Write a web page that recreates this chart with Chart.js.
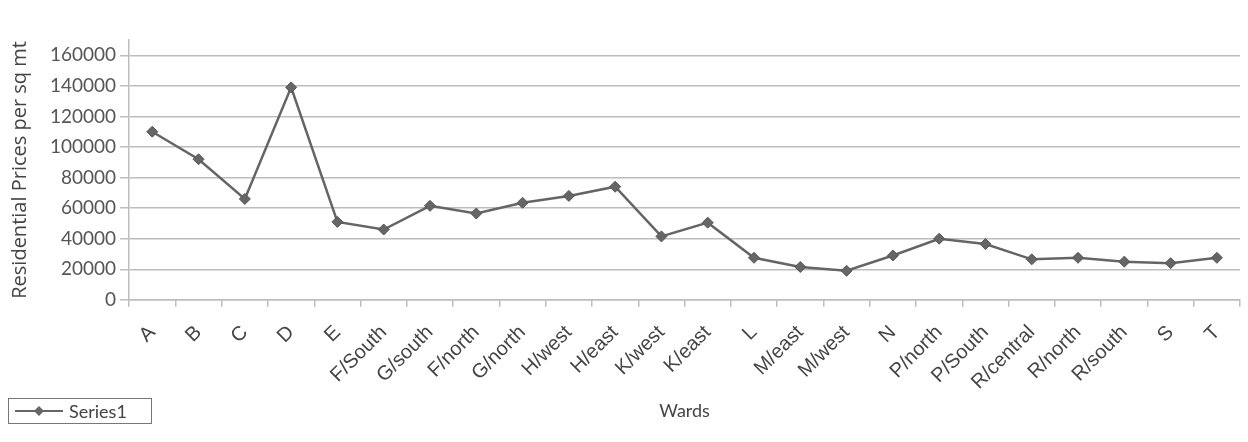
<!DOCTYPE html>
<html>
<head>
<meta charset="utf-8">
<script src="https://cdn.jsdelivr.net/npm/chart.js@4/dist/chart.umd.min.js"></script>
<style>
  html, body { margin: 0; padding: 0; background: #fff; }
  #wrap { position: relative; width: 1248px; height: 442px; }
  #legendBox {
    position: absolute; left: 8px; top: 398px; width: 144px; height: 26px;
    border: 1.5px solid #777; box-sizing: border-box;
    font-family: Lato, sans-serif; font-size: 18px; color: #444;
    display: flex; align-items: center;
  }
  #legendBox svg { margin-left: 6px; margin-right: 6px; }
</style>
</head>
<body>
<div id="wrap">
  <canvas id="chartCanvas" width="1248" height="442"></canvas>
  <div id="legendBox">
    <svg width="48" height="12"><line x1="0" y1="6" x2="48" y2="6" stroke="#666" stroke-width="2"/><polygon points="24,1 29,6 24,11 19,6" fill="#666"/></svg>
    <span>Series1</span>
  </div>
</div>
<script>
// 数据
const wards = ['A', 'B', 'C', 'D', 'E', 'F/South', 'G/south', 'F/north', 'G/north', 'H/west', 'H/east',
    'K/west', 'K/east', 'L', 'M/east', 'M/west', 'N', 'P/north', 'P/South', 'R/central', 'R/north',
    'R/south', 'S', 'T'];
const prices = [110000, 92000, 66000, 139000, 51000, 46000, 61500, 56500, 63500, 68000, 74000,
    41500, 50500, 27500, 21500, 19000, 29000, 40000, 36500, 26500, 27500, 25000, 24000, 27500];
const yTickValues = [0, 20000, 40000, 60000, 80000, 100000, 120000, 140000, 160000];
const yMax = 170000;

const gridGray = '#bdbdbd';
const lineGray = '#656565';

new Chart(document.getElementById('chartCanvas'), {
    type: 'line',
    data: {
        labels: wards,
        datasets: [{
            label: 'Series1',
            data: prices,
            borderColor: lineGray,
            backgroundColor: lineGray,
            borderWidth: 2.5,
            pointStyle: 'rectRot',
            pointRadius: 5.5,
            pointBorderWidth: 1,
            pointBackgroundColor: '#666',
            pointBorderColor: '#555',
            tension: 0
        }]
    },
    options: {
        responsive: false,
        animation: false,
        layout: { padding: { left: 8, right: 2, top: 40, bottom: 20 } },
        plugins: {
            legend: { display: false },
            tooltip: { enabled: false }
        },
        scales: {
            x: {
                offset: true,
                // 标签实际占用比预留的少，收紧一点让 "Wards" 上移
                afterFit: (scale) => { scale.height -= 10; },
                grid: { offset: true, drawOnChartArea: false, color: gridGray, lineWidth: 1.5, tickLength: 7 },
                border: { color: gridGray, width: 1.5 },
                ticks: {
                    autoSkip: false, maxRotation: 45, minRotation: 45,
                    color: '#444', font: { family: 'Liberation Sans', size: 20 }, padding: 14
                },
                title: {
                    display: true, text: 'Wards', color: '#444',
                    font: { family: 'Lato', size: 18 }, padding: { top: 2, bottom: 0 }
                }
            },
            y: {
                min: 0,
                max: yMax,
                afterBuildTicks: (scale) => {
                    scale.ticks = yTickValues.map(v => ({ value: v }));
                },
                grid: { color: gridGray, lineWidth: 1.5, tickLength: 9 },
                border: { color: gridGray, width: 1.5 },
                ticks: {
                    color: '#555', font: { family: 'Lato', size: 19 }, padding: 4,
                    callback: (v) => String(v)
                },
                title: {
                    display: true, text: 'Residential Prices per sq mt', color: '#444',
                    font: { family: 'Open Sans', size: 20 }, padding: { top: 0, bottom: 14 }
                }
            }
        }
    }
});
</script>
</body>
</html>
